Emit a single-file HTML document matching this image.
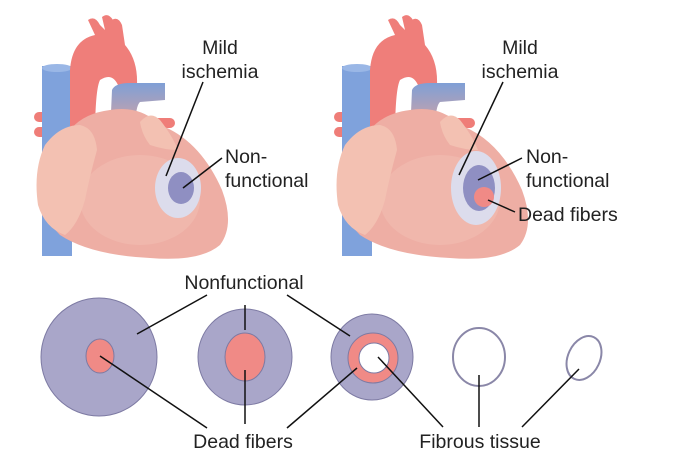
<!DOCTYPE html>
<html><head><style>
html,body{margin:0;padding:0;background:#fff;}
svg{display:block;}
text{font-family:"Liberation Sans",sans-serif;font-size:19.5px;fill:#222;}
</style></head><body>
<svg width="684" height="460" viewBox="0 0 684 460">
<defs>
<linearGradient id="bl" x1="0" y1="0" x2="0" y2="1"><stop offset="0" stop-color="#7f9fd6"/><stop offset="1" stop-color="#e2a39a"/></linearGradient>
<g id="heart">
  <rect x="34" y="112" width="20" height="10" rx="5" fill="#ef7d78"/>
  <rect x="34" y="127" width="20" height="10" rx="5" fill="#ef7d78"/>
  <rect x="145" y="118" width="30" height="10" rx="5" fill="#ef7d78"/>
  <rect x="145" y="133" width="30" height="10" rx="5" fill="#ef7d78"/>
  <rect x="42" y="66" width="30" height="190" fill="#7fa2dc"/>
  <ellipse cx="57" cy="68" rx="15" ry="4" fill="#9ab7e6"/>
  <path d="M70 140 L70 70 Q72 40 95 35 L88 20 Q95 15 100 25 L105 30 L102 17 Q108 12 113 20 L115 30 L112 20 Q118 16 122 25 L125 45 Q138 60 137 85 L118 85 Q112 72 100 80 Q95 90 95 140 Z" fill="#ef7e7a"/>
  <path d="M110 135 L112 90 Q115 83 130 83 L165 83 L165 100 L140 102 Q135 106 135 135 Z" fill="url(#bl)"/>
  <path d="M60 150 Q70 115 110 110 Q140 105 160 125 Q200 140 222 190 Q235 225 220 245 Q200 262 150 258 Q90 255 60 235 Q35 210 38 180 Q40 160 60 150 Z" fill="#eeaea4"/>
  <ellipse cx="140" cy="200" rx="60" ry="45" fill="#f2bcb2" opacity="0.6"/>
  <path d="M45 145 Q60 125 80 125 Q95 128 97 150 Q90 175 85 200 Q78 225 65 235 Q45 228 38 205 Q33 170 45 145 Z" fill="#f3c1b2"/>
  <path d="M140 122 Q150 110 160 120 Q172 135 178 150 Q165 150 150 145 Q142 135 140 122 Z" fill="#f3c1b2"/>
</g>
</defs>

<use href="#heart"/>
<use href="#heart" x="300"/>

<ellipse cx="178" cy="188" rx="23" ry="30" fill="#dcdcec"/>
<ellipse cx="181" cy="188" rx="13" ry="16" fill="#8f8fc2"/>
<line x1="166" y1="176" x2="203" y2="82" stroke="#111" stroke-width="1.5"/>
<line x1="183" y1="188" x2="222" y2="158" stroke="#111" stroke-width="1.5"/>
<text x="220" y="54" text-anchor="middle">Mild</text>
<text x="220" y="78" text-anchor="middle">ischemia</text>
<text x="225" y="163">Non-</text>
<text x="225" y="187">functional</text>

<ellipse cx="476" cy="188" rx="25" ry="37" fill="#dcdcec"/>
<ellipse cx="479" cy="188" rx="16" ry="23" fill="#8f8fc2"/>
<circle cx="484" cy="197" r="10" fill="#f08a86"/>
<line x1="459" y1="175" x2="503" y2="82" stroke="#111" stroke-width="1.5"/>
<line x1="478" y1="180" x2="522" y2="158" stroke="#111" stroke-width="1.5"/>
<line x1="488" y1="200" x2="515" y2="212" stroke="#111" stroke-width="1.5"/>
<text x="520" y="54" text-anchor="middle">Mild</text>
<text x="520" y="78" text-anchor="middle">ischemia</text>
<text x="526" y="163">Non-</text>
<text x="526" y="187">functional</text>
<text x="518" y="221">Dead fibers</text>

<g stroke="#7d7aa3" stroke-width="1">
<ellipse cx="99" cy="357" rx="58" ry="59" fill="#a9a6c9"/>
<ellipse cx="100" cy="356" rx="14" ry="17" fill="#f08a86"/>
<ellipse cx="245" cy="357" rx="47" ry="48" fill="#a9a6c9"/>
<ellipse cx="245" cy="357" rx="20" ry="24" fill="#f08a86"/>
<ellipse cx="372" cy="357" rx="41" ry="43" fill="#a9a6c9"/>
<ellipse cx="373" cy="358" rx="25" ry="25" fill="#f08a86"/>
<ellipse cx="374" cy="358" rx="15" ry="15" fill="#fff"/>
</g>
<ellipse cx="479" cy="357" rx="26" ry="29" fill="none" stroke="#8a87a8" stroke-width="2"/>
<ellipse cx="584" cy="358" rx="16" ry="23" transform="rotate(25 584 358)" fill="none" stroke="#8a87a8" stroke-width="2"/>

<g stroke="#111" stroke-width="1.5">
<line x1="207" y1="295" x2="137" y2="334"/>
<line x1="245" y1="305" x2="245" y2="330"/>
<line x1="287" y1="295" x2="350" y2="336"/>
<line x1="100" y1="356" x2="207" y2="428"/>
<line x1="245" y1="370" x2="245" y2="424"/>
<line x1="357" y1="368" x2="287" y2="428"/>
<line x1="378" y1="357" x2="443" y2="427"/>
<line x1="479" y1="375" x2="479" y2="427"/>
<line x1="579" y1="369" x2="522" y2="427"/>
</g>
<text x="244" y="289" text-anchor="middle">Nonfunctional</text>
<text x="243" y="448" text-anchor="middle">Dead fibers</text>
<text x="480" y="448" text-anchor="middle">Fibrous tissue</text>
</svg>
</body></html>
